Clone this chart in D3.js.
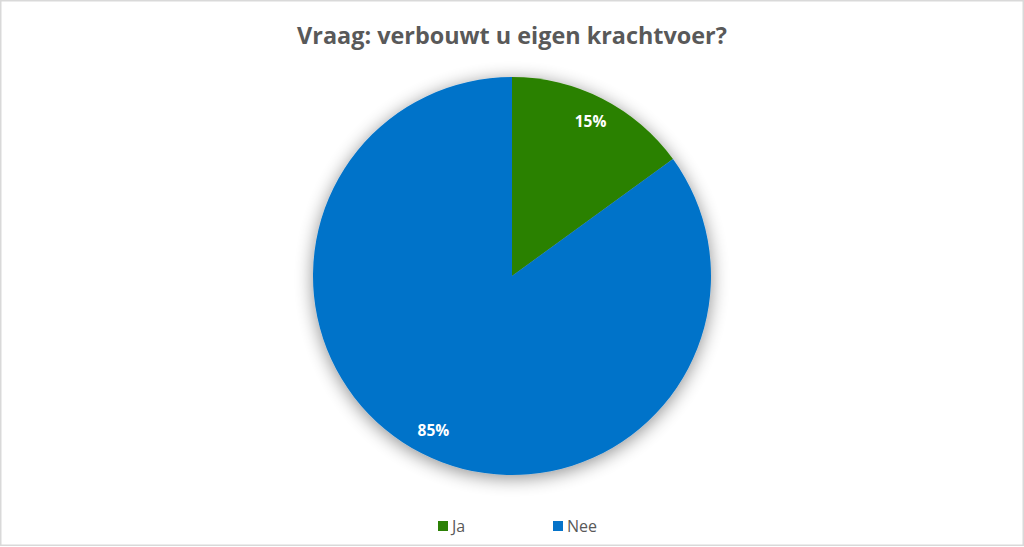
<!DOCTYPE html>
<html>
<head>
<meta charset="utf-8">
<script src="https://cdn.jsdelivr.net/npm/d3@7"></script>
<style>
  html, body { margin: 0; padding: 0; background: #fff; }
  svg { display: block; }
</style>
</head>
<body>
<svg id="chart" width="1024" height="547"></svg>
<script>
// Survey answers and their shares (percent)
const categories = ["Ja", "Nee"];
const shares = [15, 85];
const colors = ["#2c8106", "#0573c9"];
const title = "Vraag: verbouwt u eigen krachtvoer?";

const W = 1024, H = 547;
const svg = d3.select("#chart");

// outer frame
svg.append("rect")
  .attr("x", 0.75).attr("y", 0.75)
  .attr("width", W - 1.5).attr("height", H - 2.5)
  .attr("fill", "#fff").attr("stroke", "#d9d9d9").attr("stroke-width", 1.5);

// title
svg.append("text")
  .attr("x", W / 2).attr("y", 44)
  .attr("text-anchor", "middle")
  .attr("font-family", "'Open Sans', sans-serif")
  .attr("font-weight", 700)
  .attr("font-size", 23.4)
  .attr("fill", "#595959")
  .text(title);

// soft shadow under the pie
const defs = svg.append("defs");
const f = defs.append("filter").attr("id", "pieShadow")
  .attr("x", "-20%").attr("y", "-20%").attr("width", "140%").attr("height", "140%");
f.append("feGaussianBlur").attr("in", "SourceAlpha").attr("stdDeviation", 9).attr("result", "b");
f.append("feOffset").attr("in", "b").attr("dx", 0).attr("dy", 3).attr("result", "o");
f.append("feComponentTransfer").attr("in", "o").attr("result", "s")
  .append("feFuncA").attr("type", "linear").attr("slope", 0.45);
const fm = f.append("feMerge");
fm.append("feMergeNode").attr("in", "s");
fm.append("feMergeNode").attr("in", "SourceGraphic");

const cx = 512, cy = 276, R = 199;
const data = categories.map((c, i) => ({ cat: c, value: shares[i], color: colors[i] }));
const pie = d3.pie().value(d => d.value).sort(null);
const arc = d3.arc().innerRadius(0).outerRadius(R);
const labelArc = d3.arc().innerRadius(R * 0.87).outerRadius(R * 0.87);

const g = svg.append("g").attr("transform", `translate(${cx},${cy})`);
const arcs = pie(data);

g.append("g").attr("filter", "url(#pieShadow)")
  .selectAll("path").data(arcs).join("path")
  .attr("d", arc)
  .attr("fill", d => d.data.color);

g.selectAll("text.lbl").data(arcs).join("text")
  .attr("class", "lbl")
  .attr("transform", d => `translate(${labelArc.centroid(d)})`)
  .attr("text-anchor", "middle")
  .attr("dy", "0.35em")
  .attr("font-family", "'Open Sans', sans-serif")
  .attr("font-weight", 700)
  .attr("font-size", 15.5)
  .attr("fill", "#fff")
  .text(d => d.data.value + "%");

// legend
const legendX = d3.scalePoint().domain(categories).range([438, 553]);
const leg = svg.append("g").selectAll("g").data(data).join("g")
  .attr("transform", d => `translate(${legendX(d.cat)},521)`);
leg.append("rect").attr("width", 10).attr("height", 10).attr("fill", d => d.color);
leg.append("text")
  .attr("x", 14).attr("y", 10.5)
  .attr("font-family", "'Open Sans', sans-serif")
  .attr("font-size", 16)
  .attr("fill", "#595959")
  .text(d => d.cat);
</script>
</body>
</html>
